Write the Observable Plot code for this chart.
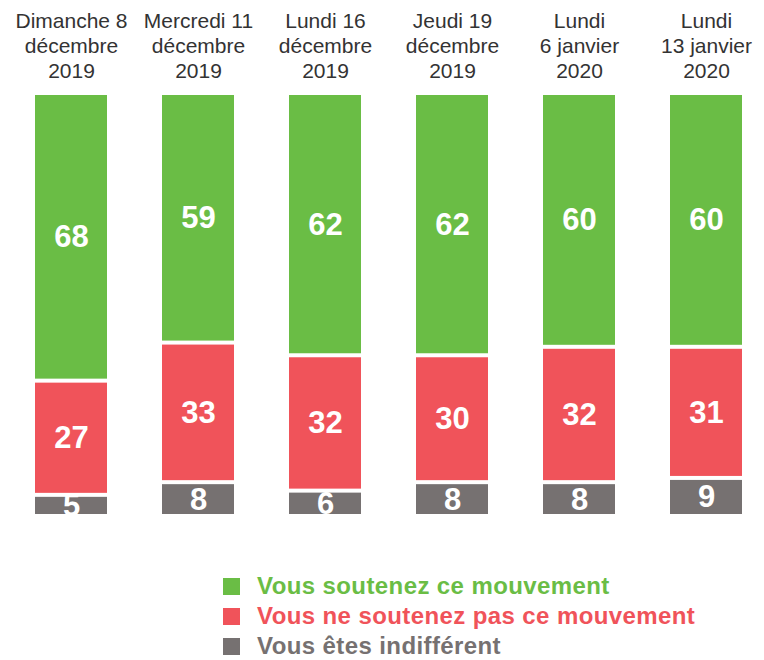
<!DOCTYPE html>
<html>
<head>
<meta charset="utf-8">
<script src="https://cdn.jsdelivr.net/npm/d3@7"></script>
<script src="https://cdn.jsdelivr.net/npm/@observablehq/plot@0.6"></script>
<style>
  body { margin: 0; background: #fff; font-family: "Liberation Sans", Arial, sans-serif; }
  #wrap { position: relative; width: 764px; height: 660px; }
  #legend { position: absolute; left: 223px; top: 571px; }
  .row { display: flex; align-items: center; height: 30px; font-weight: bold; font-size: 24px; letter-spacing: 0.4px; }
  .sw { width: 17px; height: 17px; margin-right: 17px; flex: none; }
</style>
</head>
<body>
<div id="wrap"></div>
<script>
const dates = [
  "Dimanche 8\ndécembre\n2019",
  "Mercredi 11\ndécembre\n2019",
  "Lundi 16\ndécembre\n2019",
  "Jeudi 19\ndécembre\n2019",
  "Lundi\n6 janvier\n2020",
  "Lundi\n13 janvier\n2020"
];
const series = ["Vous êtes indifférent", "Vous ne soutenez pas ce mouvement", "Vous soutenez ce mouvement"];
const indifferent = [5, 8, 6, 8, 8, 9];
const contre = [27, 33, 32, 30, 32, 31];
const soutien = [68, 59, 62, 62, 60, 60];
const colors = ["#767171", "#f0535a", "#6abd45"];

const values = [indifferent, contre, soutien];
const data = [];
dates.forEach((d, i) => {
  series.forEach((s, k) => data.push({date: d, series: s, value: values[k][i]}));
});

const chart = Plot.plot({
  width: 764,
  height: 540,
  marginTop: 93,
  marginBottom: 24,
  marginLeft: 34,
  marginRight: 21,
  style: {fontFamily: "'Liberation Sans', Arial, sans-serif", background: "#fff"},
  x: {domain: dates, paddingInner: 0.435, paddingOuter: 0, label: null},
  y: {domain: [0, 100], axis: null},
  color: {domain: series, range: colors},
  marks: [
    Plot.axisX({anchor: "top", tickSize: 0, tickPadding: 16, fontSize: 21, lineHeight: 1.17, fill: "#333", label: null}),
    Plot.barY(data, {x: "date", y: "value", fill: "series", insetTop: 2, insetBottom: 2}),
    Plot.text(data, Plot.stackY({x: "date", y: "value", text: "value", fill: "white", fontSize: 31, fontWeight: "bold", clip: true}))
  ]
});
document.getElementById("wrap").appendChild(chart);

const legend = document.createElement("div");
legend.id = "legend";
[2, 1, 0].forEach(k => {
  const row = document.createElement("div");
  row.className = "row";
  row.style.color = colors[k];
  const sw = document.createElement("div");
  sw.className = "sw";
  sw.style.background = colors[k];
  row.appendChild(sw);
  row.appendChild(document.createTextNode(series[k]));
  legend.appendChild(row);
});
document.getElementById("wrap").appendChild(legend);
</script>
</body>
</html>
